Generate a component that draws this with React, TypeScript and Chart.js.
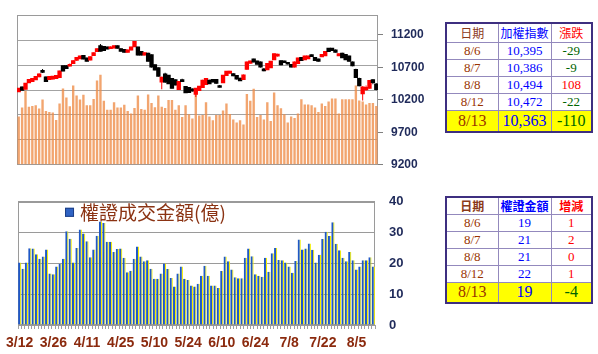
import React, { useEffect, useRef } from 'react';
import { Chart, registerables } from 'chart.js';
Chart.register(...registerables);

const dates = [
  '3/12','3/13','3/14','3/15','3/18','3/19','3/20','3/21','3/22','3/25',
  '3/26','3/27','3/28','3/29','4/1','4/2','4/3','4/8','4/9','4/10',
  '4/11','4/12','4/15','4/16','4/17','4/18','4/19','4/22','4/23','4/24',
  '4/25','4/26','4/29','4/30','5/2','5/3','5/6','5/7','5/8','5/9',
  '5/10','5/13','5/14','5/15','5/16','5/17','5/20','5/21','5/22','5/23',
  '5/24','5/27','5/28','5/29','5/30','5/31','6/3','6/4','6/5','6/6',
  '6/10','6/11','6/12','6/13','6/14','6/17','6/18','6/19','6/20','6/21',
  '6/24','6/25','6/26','6/27','6/28','7/1','7/2','7/3','7/4','7/5',
  '7/8','7/9','7/10','7/11','7/12','7/15','7/16','7/17','7/18','7/19',
  '7/22','7/23','7/24','7/25','7/26','7/29','7/30','7/31','8/1','8/2',
  '8/5','8/6','8/7','8/8','8/12','8/13',
];

const opens = [
  10330,10395,10370,10470,10490,10515,10560,10648,10547,10520,
  10525,10535,10550,10720,10722,10725,10765,10815,10840,10880,
  10840,10820,10890,10950,11030,11020,11010,10995,11005,11030,
  10985,10970,10940,10975,11025,11010,10940,10895,10915,10890,
  10735,10690,10480,10595,10575,10525,10505,10365,10505,10400,
  10385,10365,10290,10350,10395,10440,10500,10510,10510,10415,
  10470,10580,10615,10600,10570,10530,10520,10675,10770,10825,
  10795,10780,10670,10670,10700,10825,10880,10800,10795,10772,
  10740,10710,10765,10850,10825,10840,10892,10850,10825,10870,
  10885,10990,10990,10965,10885,10915,10895,10870,10780,10665,
  10525,10300,10360,10385,10505,10440,
];
const closes = [
  10375,10355,10450,10510,10525,10555,10595,10632,10490,10555,
  10560,10570,10640,10650,10690,10742,10800,10850,10870,10835,
  10800,10860,10920,10985,10955,10965,10990,11010,11030,11000,
  10955,10940,10965,11010,11095,10895,10895,10920,10800,10710,
  10665,10570,10545,10480,10455,10385,10435,10480,10490,10315,
  10320,10340,10375,10405,10500,10525,10455,10480,10460,10400,
  10575,10635,10638,10575,10525,10500,10580,10780,10795,10790,
  10755,10710,10655,10755,10790,10905,10897,10745,10780,10758,
  10710,10780,10840,10810,10870,10870,10875,10810,10800,10895,
  10940,10950,10965,10940,10905,10855,10825,10800,10730,10549,
  10424,10395,10386,10494,10472,10363,
];
const highs = [
  10385,10405,10460,10520,10535,10565,10605,10675,10560,10565,
  10570,10580,10650,10730,10735,10760,10810,10860,10880,10890,
  10850,10870,10930,10995,11060,11030,11020,11025,11040,11040,
  10995,10980,10975,11020,11105,11020,10950,10930,10925,10900,
  10745,10700,10555,10620,10585,10535,10515,10490,10525,10410,
  10395,10375,10385,10415,10510,10535,10510,10520,10520,10430,
  10585,10645,10650,10610,10580,10540,10590,10790,10805,10835,
  10805,10790,10690,10765,10800,10915,10910,10810,10805,10785,
  10750,10790,10850,10860,10880,10880,10900,10860,10835,10905,
  10950,11000,11000,10975,10915,10925,10905,10880,10790,10680,
  10540,10410,10420,10505,10520,10455,
];
const lows = [
  10320,10345,10365,10460,10480,10505,10550,10615,10480,10510,
  10515,10525,10540,10640,10680,10715,10755,10805,10830,10825,
  10790,10810,10880,10940,10945,10955,10980,10985,10995,10990,
  10945,10930,10930,10965,11015,10885,10885,10885,10790,10700,
  10655,10560,10365,10460,10445,10375,10425,10355,10475,10305,
  10310,10330,10245,10340,10385,10430,10445,10470,10450,10390,
  10460,10570,10605,10565,10515,10490,10510,10665,10760,10780,
  10745,10700,10640,10660,10690,10815,10870,10735,10770,10745,
  10700,10700,10755,10800,10815,10830,10865,10800,10790,10860,
  10875,10940,10955,10930,10875,10845,10815,10790,10720,10540,
  10410,10190,10345,10375,10440,10350,
];
const volumes = [
  970,1151,1487,1162,1180,1193,1129,1310,1079,1057,
  1048,898,1229,1530,1350,1175,1590,1391,1310,1404,
  1193,1193,1319,1693,1807,1283,1106,1106,1253,1151,
  1151,1205,1079,1030,1138,1391,1120,1102,1409,1241,
  1156,1391,1162,1138,1301,1301,1102,1193,958,1193,
  1012,927,1494,988,1000,1253,970,891,1000,1000,
  1090,1229,1018,909,849,891,808,1422,1283,1524,
  958,1000,909,1253,880,1451,1193,1133,1012,849,
  970,940,1030,1314,1211,1211,1193,1151,1061,1229,
  1180,1270,1332,1332,1030,1314,1314,1314,1314,1590,
  1288,1270,1211,1241,1241,1180,
];
const warrants = [
  20.3,18.3,20.3,24.9,24.8,23,21.5,22.2,24.5,16.7,
  16.5,19,19.9,21.5,30.4,28,20.3,25,31,29.7,
  27.2,22,24.5,29,33.6,33.1,27,27,23.7,24.7,
  24.8,21.8,17.1,17.6,21.5,25.5,22.2,20.7,21,18.3,
  15,15,16.7,20,18.2,15.3,12.5,16.7,19,15,
  14.6,12.8,12.5,13.4,16,19.2,16,12.8,12.8,12,
  17.5,22.2,20.7,18,15.5,15.2,15.2,21.8,24.8,22.3,
  16.5,16,15.7,21.8,17.3,23.3,25,21.1,21,20.3,
  19,17,20.8,27.8,24.5,24.8,26.5,24.4,20.3,22.8,
  27.9,30.3,28.9,33.4,26.4,24.3,21.8,20.7,23.7,21,
  18,19,21,21,22,19,
];

const priceTicks = [9200, 9700, 10200, 10700, 11200];
const labelEvery = 10;
const legendLabel = '權證成交金額(億)';

const tblDates = ['8/6', '8/7', '8/8', '8/12', '8/13'];
const tblIndex = [10395, 10386, 10494, 10472, 10363];
const tblIndexChg = [-29, -9, 108, -22, -110];
const tblWarrant = [19, 21, 21, 22, 19];
const tblWarrantChg = [1, 2, 0, 1, -4];

const framePlugin = {
  id: 'frame',
  beforeDatasetsDraw(chart: any) {
    const { ctx, chartArea } = chart;
    ctx.save();
    ctx.strokeStyle = '#9A9A9A';
    ctx.lineWidth = 1;
    ctx.strokeRect(Math.round(chartArea.left) + 0.5, Math.round(chartArea.top) + 0.5,
      Math.round(chartArea.right - chartArea.left) - 1, Math.round(chartArea.bottom - chartArea.top) - 1);
    ctx.restore();
  },
};

const legendPlugin = {
  id: 'insideLegend',
  afterDatasetsDraw(chart: any) {
    const { ctx, chartArea } = chart;
    ctx.save();
    ctx.fillStyle = '#2F63C4';
    ctx.fillRect(chartArea.left + 47, chartArea.top + 6, 9, 9);
    ctx.strokeStyle = '#1D3F86';
    ctx.lineWidth = 1;
    ctx.strokeRect(chartArea.left + 47.5, chartArea.top + 6.5, 8, 8);
    ctx.fillStyle = '#8B3313';
    ctx.font = '19px "Noto Sans CJK TC"';
    ctx.textBaseline = 'middle';
    ctx.textAlign = 'left';
    ctx.fillText(legendLabel, chartArea.left + 62, chartArea.top + 11);
    ctx.restore();
  },
};

const candleColors = closes.map((c, i) => (c >= opens[i] ? '#FF0000' : '#000000'));

function TopChart() {
  const ref = useRef<HTMLCanvasElement>(null);
  useEffect(() => {
    const chart = new Chart(ref.current as HTMLCanvasElement, {
      type: 'bar',
      data: {
        labels: dates,
        datasets: [
          {
            label: 'body',
            data: opens.map((o, i) => [o, closes[i]]) as any,
            backgroundColor: candleColors,
            yAxisID: 'price',
            grouped: false,
            barPercentage: 0.8,
            categoryPercentage: 1,
            inflateAmount: 0.8,
            order: 1,
          } as any,
          {
            label: 'wick',
            data: lows.map((l, i) => [l, highs[i]]) as any,
            backgroundColor: candleColors,
            yAxisID: 'price',
            grouped: false,
            barThickness: 1,
            inflateAmount: 0,
            order: 2,
          } as any,
          {
            label: 'vol',
            data: volumes,
            backgroundColor: 'rgba(238,140,70,0.78)',
            yAxisID: 'vol',
            grouped: false,
            barPercentage: 0.7,
            categoryPercentage: 1,
            order: 3,
          } as any,
        ],
      },
      options: {
        responsive: false,
        animation: false,
        devicePixelRatio: 1,
        layout: { padding: { left: 17, top: 6, bottom: 8, right: 0 } },
        plugins: { legend: { display: false }, tooltip: { enabled: false } },
        scales: {
          x: { display: false },
          vol: {
            position: 'left',
            min: 0,
            max: 3000,
            ticks: { display: false, stepSize: 500 },
            grid: { color: '#A3A3A3', drawTicks: false },
            border: { display: false },
            afterFit: (s: any) => { s.width = 0; },
          },
          price: {
            position: 'right',
            min: 9200,
            max: 11505,
            afterBuildTicks: (s: any) => { s.ticks = priceTicks.map((v) => ({ value: v })); },
            ticks: {
              callback: (v: any) => String(v),
              font: { family: '"Liberation Sans", Arial, sans-serif', weight: 'bold', size: 12 },
              color: '#1F2A5A',
              padding: 8,
            },
            grid: { drawOnChartArea: false, tickLength: 5, color: '#808080' },
            border: { display: false },
            afterFit: (s: any) => { s.width = 62; },
          },
        } as any,
      },
      plugins: [framePlugin],
    });
    return () => chart.destroy();
  }, []);
  return <canvas ref={ref} width={440} height={180} style={{ position: 'absolute', left: 0, top: 0 }} />;
}

function BottomChart() {
  const ref = useRef<HTMLCanvasElement>(null);
  useEffect(() => {
    const chart = new Chart(ref.current as HTMLCanvasElement, {
      type: 'bar',
      data: {
        labels: dates,
        datasets: [
          {
            label: legendLabel,
            data: warrants,
            backgroundColor: '#1F58C6',
            borderColor: '#F4F000',
            borderWidth: { left: 0, right: 1.2, top: 0, bottom: 0 },
            barPercentage: 0.95,
            categoryPercentage: 1,
          } as any,
        ],
      },
      options: {
        responsive: false,
        animation: false,
        devicePixelRatio: 1,
        layout: { padding: { left: 17, top: 12, bottom: 0, right: 0 } },
        plugins: { legend: { display: false }, tooltip: { enabled: false } },
        scales: {
          x: {
            grid: { drawOnChartArea: false, tickLength: 4, color: '#A0A0A0' },
            border: { display: false },
            ticks: {
              autoSkip: false,
              maxRotation: 0,
              minRotation: 0,
              callback: (_v: any, i: number) => (i % labelEvery === 0 ? dates[i] : ''),
              font: { family: '"Liberation Sans", Arial, sans-serif', weight: 'bold', size: 14 },
              color: '#8B2A0E',
              padding: 6,
            },
            afterFit: (s: any) => { s.height = 29; },
          },
          y: {
            position: 'right',
            min: 0,
            max: 40,
            ticks: {
              stepSize: 10,
              font: { family: '"Liberation Sans", Arial, sans-serif', weight: 'bold', size: 13 },
              color: '#1F2A5A',
              padding: 14,
            },
            grid: { color: '#9A9A9A', drawTicks: false },
            border: { display: false },
            afterFit: (s: any) => { s.width = 65; },
          },
        } as any,
      },
      plugins: [framePlugin, legendPlugin],
    });
    return () => chart.destroy();
  }, []);
  return <canvas ref={ref} width={440} height={174} style={{ position: 'absolute', left: 0, top: 180 }} />;
}

const serif = '"Liberation Serif", "Times New Roman", "Noto Sans CJK TC", serif';
const cjk = '"Noto Sans CJK TC", sans-serif';
const cellBorder = '1px solid #9389BD';

function chgColor(v: number) {
  return v < 0 ? '#006400' : '#FF0000';
}

function DataTable(props: {
  top: number;
  headers: string[];
  headerColors: string[];
  headerBold: boolean;
  col2: string[];
  col3: number[];
  rowH: number[];
}) {
  const { top, headers, headerColors, headerBold, col2, col3, rowH } = props;
  const widths = [52, 53, 41];
  const tdBase: React.CSSProperties = {
    border: cellBorder,
    padding: 0,
    textAlign: 'center',
    verticalAlign: 'middle',
    lineHeight: 1,
    whiteSpace: 'nowrap',
  };
  return (
    <table
      style={{
        position: 'absolute',
        left: 445,
        top,
        width: 146,
        borderCollapse: 'collapse',
        border: '2px solid #3E2F80',
        tableLayout: 'fixed',
        background: '#fff',
      }}
    >
      <colgroup>
        {widths.map((w, i) => <col key={i} style={{ width: w }} />)}
      </colgroup>
      <tbody>
        <tr style={{ height: rowH[0] }}>
          {headers.map((h, i) => (
            <td key={i} style={{ ...tdBase, fontFamily: cjk, fontSize: 12, fontWeight: headerBold ? 'bold' : 'normal', color: headerColors[i] }}>{h}</td>
          ))}
        </tr>
        {tblDates.map((d, r) => {
          const last = r === tblDates.length - 1;
          const fs = last ? 16 : 13;
          return (
            <tr key={r} style={{ height: rowH[r + 1], background: last ? '#FFFF00' : '#fff' }}>
              <td style={{ ...tdBase, fontFamily: serif, fontSize: fs, color: '#993300' }}>{d}</td>
              <td style={{ ...tdBase, fontFamily: serif, fontSize: fs, color: '#0000FF' }}>{col2[r]}</td>
              <td style={{ ...tdBase, fontFamily: serif, fontSize: fs, color: chgColor(col3[r]) }}>{String(col3[r])}</td>
            </tr>
          );
        })}
      </tbody>
    </table>
  );
}

export default function App() {
  return (
    <div style={{ position: 'fixed', left: 0, top: 0, width: 598, height: 354, background: '#fff', overflow: 'hidden' }}>
      <TopChart />
      <BottomChart />
      <DataTable
        top={22}
        headers={['日期', '加權指數', '漲跌']}
        headerColors={['#8B3A1A', '#0000FF', '#FF0000']}
        headerBold={false}
        col2={tblIndex.map((v) => v.toLocaleString('en-US'))}
        col3={tblIndexChg}
        rowH={[19, 17, 17, 17, 17, 22]}
      />
      <DataTable
        top={196}
        headers={['日期', '權證金額', '增減']}
        headerColors={['#8B3A1A', '#0000FF', '#FF0000']}
        headerBold={true}
        col2={tblWarrant.map((v) => String(v))}
        col3={tblWarrantChg}
        rowH={[17, 17, 17, 17, 17, 21]}
      />
    </div>
  );
}
